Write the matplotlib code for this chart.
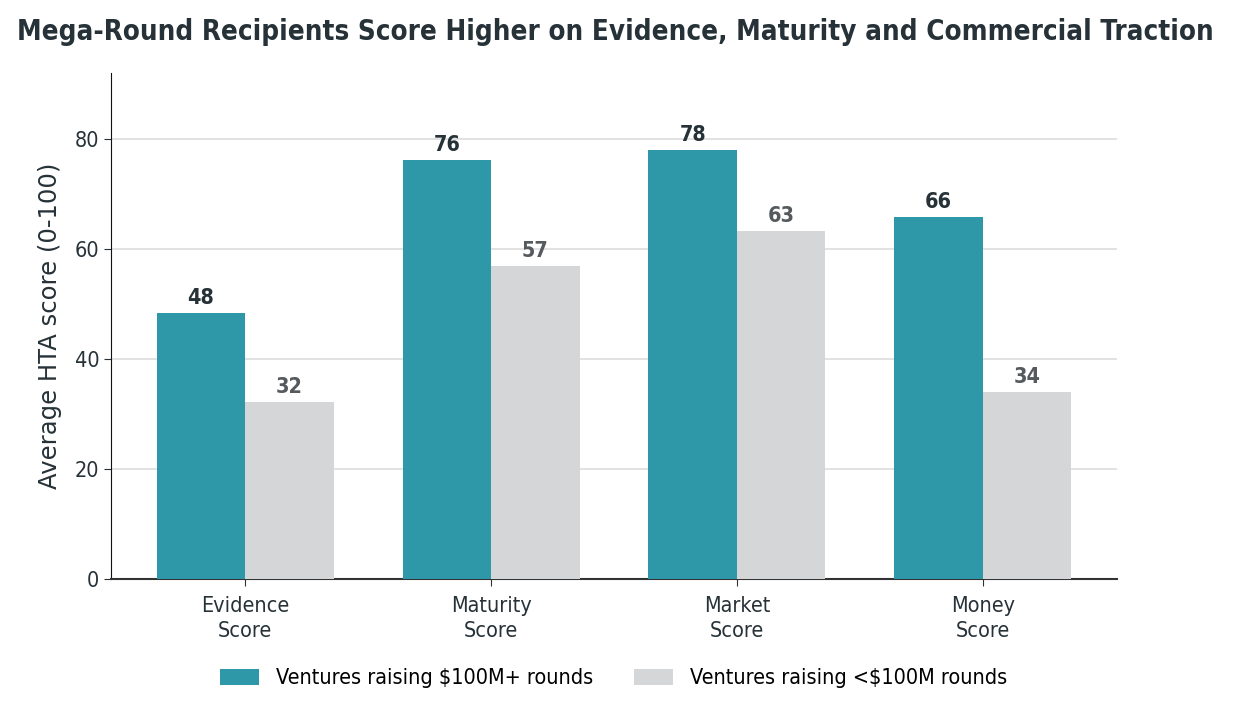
import numpy as np
import matplotlib
matplotlib.use("Agg")
import matplotlib.pyplot as plt

categories = ["Evidence\nScore", "Maturity\nScore", "Market\nScore", "Money\nScore"]
mega_scores = [48.4, 76.2, 78.0, 65.8]
other_scores = [32.2, 56.9, 63.3, 34.0]
series_labels = ["Ventures raising $100M+ rounds", "Ventures raising <$100M rounds"]

teal = "#2E98A8"
grey = "#D5D6D8"
dark = "#263238"

plt.rcParams["font.family"] = ["DejaVu Sans"]
plt.rcParams["font.stretch"] = "condensed"

fig = plt.figure(figsize=(12.33, 7.22), dpi=100)
ax = fig.add_axes([0.090, 0.198, 0.816, 0.701])

x = np.arange(len(categories))
w = 0.36
b1 = ax.bar(x - w / 2, mega_scores, w, color=teal, label=series_labels[0], zorder=3)
b2 = ax.bar(x + w / 2, other_scores, w, color=grey, label=series_labels[1], zorder=3)

for rect, v in zip(b1, mega_scores):
    ax.text(rect.get_x() + rect.get_width() / 2, v + 0.9, f"{v:.0f}",
            ha="center", va="bottom", fontsize=15.5, fontweight="bold", color=dark)
for rect, v in zip(b2, other_scores):
    ax.text(rect.get_x() + rect.get_width() / 2, v + 0.9, f"{v:.0f}",
            ha="center", va="bottom", fontsize=15.5, fontweight="bold", color="#555a5e")

ax.set_ylim(0, max(mega_scores) * 1.18)
ax.set_yticks([0, 20, 40, 60, 80])
ax.set_xticks(x)
ax.set_xticklabels(categories, linespacing=1.35)
ax.tick_params(axis="both", labelsize=15.5, colors=dark, length=5)
ax.tick_params(axis="x", color="#333333", pad=7)
ax.set_ylabel("Average HTA score (0-100)", fontsize=17.5, color=dark,
              fontstretch="normal", labelpad=9)

ax.grid(axis="y", color="#dddddd", linewidth=1.2, zorder=0)
ax.set_axisbelow(True)
ax.spines["top"].set_visible(False)
ax.spines["right"].set_visible(False)
ax.spines["left"].set_color("#111111")
ax.spines["bottom"].set_color("#333333")
ax.spines["bottom"].set_linewidth(1.5)

fig.suptitle("Mega-Round Recipients Score Higher on Evidence, Maturity and Commercial Traction",
             x=0.499, y=0.975, fontsize=19.9, fontweight="bold", color=dark)

fig.legend(loc="lower center", bbox_to_anchor=(0.498, 0.02), ncol=2, frameon=False,
           fontsize=15.5, handlelength=1.8, handleheight=0.75, columnspacing=1.9)

fig.savefig("out.png", dpi=100)
